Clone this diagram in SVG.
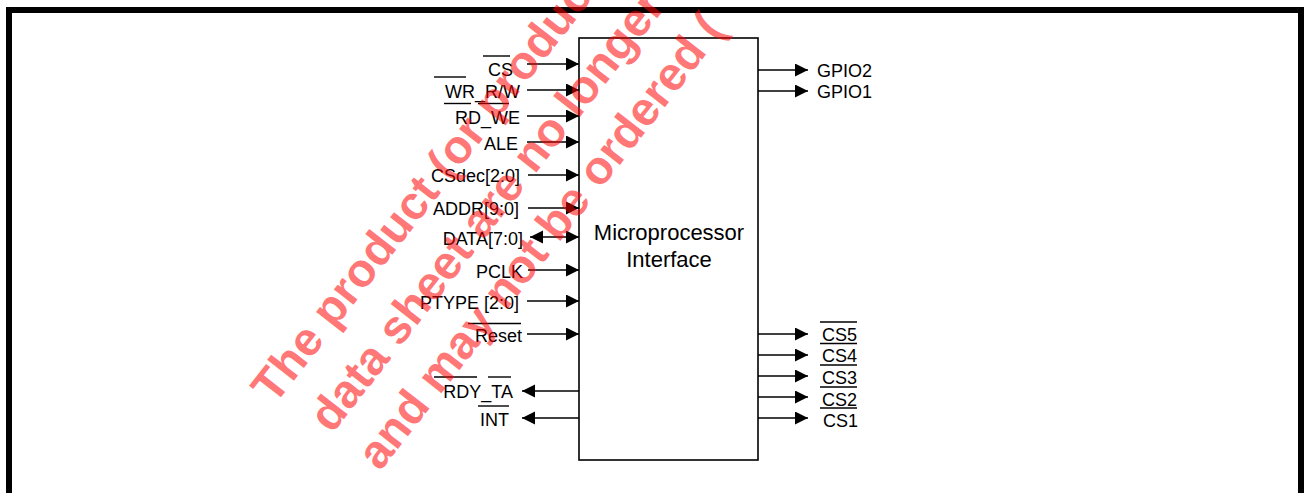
<svg xmlns="http://www.w3.org/2000/svg" width="1304" height="493" viewBox="0 0 1304 493">
<style>
.lbl{font-family:"Liberation Sans",Arial,sans-serif;font-size:18px;fill:#000}
.end{text-anchor:end}
.title{font-family:"Liberation Sans",Arial,sans-serif;font-size:22px;fill:#000;text-anchor:middle}
.wire{stroke:#000;stroke-width:1.5;fill:none}
.ov{stroke:#000;stroke-width:1.4}
.wm{font-family:"Liberation Sans",Arial,sans-serif;font-size:47px;font-weight:bold;fill:#ff0000;fill-opacity:0.55}
</style>
<defs>
<marker id="arr" markerUnits="userSpaceOnUse" markerWidth="14" markerHeight="14" refX="13" refY="6.5" orient="auto-start-reverse">
<path d="M0,0 L13,6.5 L0,13 Z" fill="#000"/>
</marker>
</defs>
<rect x="0" y="0" width="1304" height="493" fill="#fff"/>
<rect id="frame" x="9" y="10" width="1292" height="600" fill="none" stroke="#000" stroke-width="6"/>

<g id="mpi">
<rect x="579" y="38" width="179" height="422" fill="#fff" stroke="#000" stroke-width="1.6"/>
<text class="title" x="669" y="240">Microprocessor</text>
<text class="title" x="669" y="267">Interface</text>
</g>

<g id="connectors">
<line class="wire" x1="527" y1="64" x2="579" y2="64" marker-end="url(#arr)"/>
<line class="wire" x1="527" y1="90" x2="579" y2="90" marker-end="url(#arr)"/>
<line class="wire" x1="527" y1="116" x2="579" y2="116" marker-end="url(#arr)"/>
<line class="wire" x1="527" y1="142" x2="579" y2="142" marker-end="url(#arr)"/>
<line class="wire" x1="528" y1="175" x2="579" y2="175" marker-end="url(#arr)"/>
<line class="wire" x1="528" y1="208" x2="579" y2="208" marker-end="url(#arr)"/>
<line class="wire" x1="530" y1="237" x2="579" y2="237" marker-start="url(#arr)" marker-end="url(#arr)"/>
<line class="wire" x1="528" y1="270" x2="579" y2="270" marker-end="url(#arr)"/>
<line class="wire" x1="527" y1="301" x2="579" y2="301" marker-end="url(#arr)"/>
<line class="wire" x1="527" y1="334" x2="579" y2="334" marker-end="url(#arr)"/>
<line class="wire" x1="579" y1="391" x2="522" y2="391" marker-end="url(#arr)"/>
<line class="wire" x1="579" y1="418" x2="522" y2="418" marker-end="url(#arr)"/>
<line class="wire" x1="758" y1="70" x2="808" y2="70" marker-end="url(#arr)"/>
<line class="wire" x1="758" y1="91" x2="808" y2="91" marker-end="url(#arr)"/>
<line class="wire" x1="758" y1="334" x2="808" y2="334" marker-end="url(#arr)"/>
<line class="wire" x1="758" y1="355" x2="808" y2="355" marker-end="url(#arr)"/>
<line class="wire" x1="758" y1="376" x2="808" y2="376" marker-end="url(#arr)"/>
<line class="wire" x1="758" y1="397" x2="808" y2="397" marker-end="url(#arr)"/>
<line class="wire" x1="758" y1="418" x2="808" y2="418" marker-end="url(#arr)"/>
</g>

<g id="sig-cs"><text class="lbl end" x="513" y="76">CS</text><line class="ov" x1="483" y1="56" x2="510" y2="56"/></g>
<g id="sig-wr"><text class="lbl end" x="520" y="98">WR_R/W</text><line class="ov" x1="434" y1="77" x2="466" y2="77"/></g>
<g id="sig-rd"><text class="lbl end" x="520" y="124">RD_WE</text><line class="ov" x1="444" y1="103.5" x2="471" y2="103.5"/><line class="ov" x1="478" y1="103.5" x2="509" y2="103.5"/></g>
<g id="sig-ale"><text class="lbl end" x="518" y="150">ALE</text></g>
<g id="sig-csdec"><text class="lbl end" x="520" y="182">CSdec[2:0]</text></g>
<g id="sig-addr"><text class="lbl end" x="519" y="215">ADDR[9:0]</text></g>
<g id="sig-data"><text class="lbl end" x="523" y="245">DATA[7:0]</text></g>
<g id="sig-pclk"><text class="lbl end" x="523" y="278">PCLK</text></g>
<g id="sig-ptype"><text class="lbl end" x="519" y="309">PTYPE [2:0]</text></g>
<g id="sig-reset"><text class="lbl end" x="522" y="342">Reset</text><line class="ov" x1="468" y1="323.5" x2="521" y2="323.5"/></g>
<g id="sig-rdy"><text class="lbl end" x="513" y="398">RDY_TA</text><line class="ov" x1="434" y1="377" x2="477" y2="377"/><line class="ov" x1="488" y1="377" x2="511" y2="377"/></g>
<g id="sig-int"><text class="lbl end" x="509" y="426">INT</text><line class="ov" x1="478" y1="406" x2="509" y2="406"/></g>

<g id="sig-gpio2"><text class="lbl" x="817" y="77">GPIO2</text></g>
<g id="sig-gpio1"><text class="lbl" x="817" y="98">GPIO1</text></g>
<g id="sig-cs5"><text class="lbl" x="822" y="341">CS5</text><line class="ov" x1="820" y1="322" x2="857" y2="322"/></g>
<g id="sig-cs4"><text class="lbl" x="822" y="362">CS4</text><line class="ov" x1="820" y1="343.5" x2="857" y2="343.5"/></g>
<g id="sig-cs3"><text class="lbl" x="822" y="384">CS3</text><line class="ov" x1="820" y1="365" x2="857" y2="365"/></g>
<g id="sig-cs2"><text class="lbl" x="822" y="406">CS2</text><line class="ov" x1="820" y1="387" x2="857" y2="387"/></g>
<g id="sig-cs1"><text class="lbl" x="823" y="427">CS1</text><line class="ov" x1="820" y1="408" x2="857" y2="408"/></g>

<g id="watermark" transform="translate(380,472) rotate(-52)">
<text class="wm" x="-13" y="-124">The product (or product</text>
<text class="wm" x="0" y="-61">data sheet are no longer</text>
<text class="wm" x="0" y="0">and may not be ordered (</text>
</g>
</svg>
